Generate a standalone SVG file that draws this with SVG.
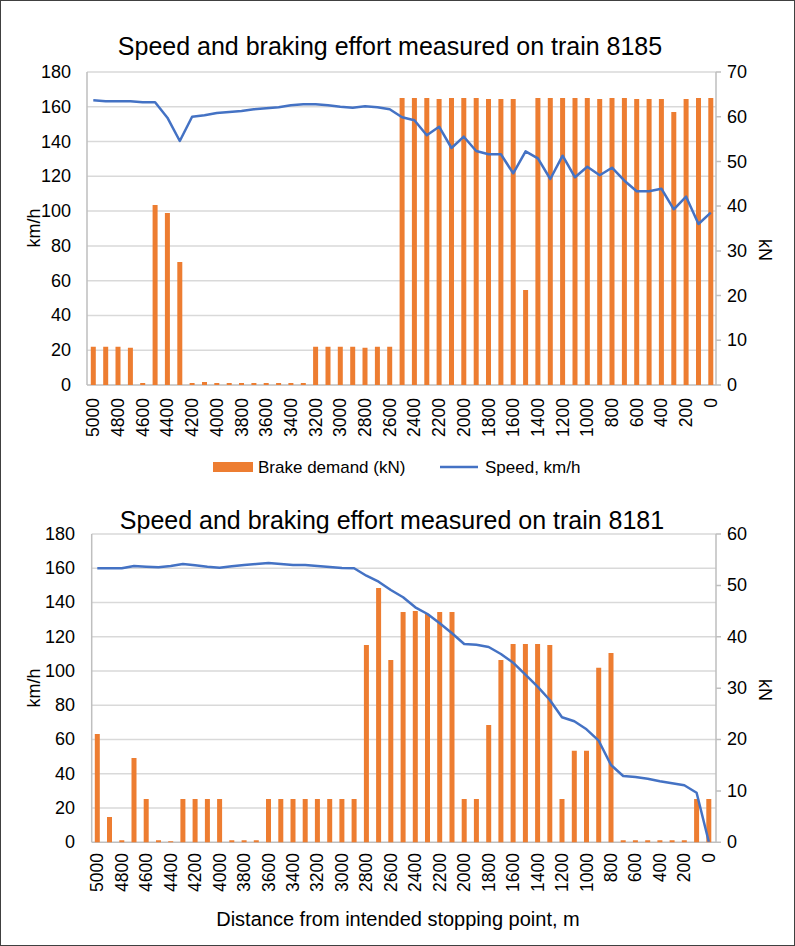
<svg xmlns="http://www.w3.org/2000/svg" width="795" height="946" viewBox="0 0 795 946">
<style>
text{font-family:"Liberation Sans",Arial,sans-serif;fill:#000}
.t{font-size:25px;text-anchor:middle}
.l{font-size:18px;text-anchor:end}
.r{font-size:18px;text-anchor:start}
.x{font-size:17.5px;text-anchor:end}
.g{stroke:#d9d9d9;stroke-width:1.5;fill:none}
.ax{stroke:#bfbfbf;stroke-width:1.5;fill:none}
.bar{stroke:#ed7d31;stroke-width:5;fill:none}
.sp{stroke:#4472c4;stroke-width:2.5;fill:none;stroke-linejoin:round}
</style>
<rect x="0.5" y="0.5" width="794" height="945" fill="#fff" stroke="#404040"/>
<g id="chart1">
<text class="t" x="390" y="55">Speed and braking effort measured on train 8185</text>
<path class="g" d="M87 350.2H716M87 315.4H716M87 280.7H716M87 245.9H716M87 211.1H716M87 176.3H716M87 141.6H716M87 106.8H716M87 72H716"/>
<path class="ax" d="M87 72V385M87 385H716M716 72V385M716 72h5M716 116.7h5M716 161.4h5M716 206.1h5M716 250.9h5M716 295.6h5M716 340.3h5M716 385h5"/>
<g class="l"><text x="71" y="391">0</text><text x="71" y="356">20</text><text x="71" y="321">40</text><text x="71" y="287">60</text><text x="71" y="252">80</text><text x="71" y="217">100</text><text x="71" y="182">120</text><text x="71" y="148">140</text><text x="71" y="113">160</text><text x="71" y="78">180</text></g>
<g class="r"><text x="727" y="391">0</text><text x="727" y="346">10</text><text x="727" y="302">20</text><text x="727" y="257">30</text><text x="727" y="212">40</text><text x="727" y="168">50</text><text x="727" y="123">60</text><text x="727" y="78">70</text></g>
<text font-size="18" transform="translate(40,228) rotate(-90)" text-anchor="middle">km/h</text>
<text font-size="18" transform="translate(759,250) rotate(90)" text-anchor="middle">kN</text>
<path class="bar" d="M93.3 385V346.7M105.7 385V346.7M118 385V346.7M130.4 385V347.7M142.7 385V383M155.1 385V205M167.4 385V213M179.8 385V262M192.1 385V383M204.5 385V382M216.8 385V383M229.2 385V383M241.5 385V383M253.9 385V383M266.2 385V383M278.6 385V383M290.9 385V383M303.3 385V383M315.6 385V346.7M328 385V346.7M340.3 385V346.7M352.7 385V346.7M365 385V347.7M377.4 385V346.7M389.7 385V346.7M402.1 385V98M414.4 385V98M426.8 385V98M439.1 385V99M451.5 385V98M463.8 385V98M476.2 385V98M488.5 385V99M500.9 385V99M513.2 385V99M525.6 385V290M537.9 385V98M550.3 385V98M562.6 385V98M575 385V98M587.3 385V98M599.7 385V99M612 385V98M624.4 385V98M636.7 385V99M649.1 385V99M661.4 385V99M673.8 385V112M686.1 385V99M698.5 385V98M710.8 385V98"/>
<polyline class="sp" points="93.3,100.3 105.7,101.3 118,101.3 130.4,101.3 142.7,102.3 155.1,102.3 167.4,117.7 179.8,141 192.1,116.7 204.5,115.3 216.8,113 229.2,112 241.5,111 253.9,109.3 266.2,108.3 278.6,107.3 290.9,105.3 303.3,104.3 315.6,104.3 328,105.3 340.3,106.7 352.7,107.7 365,106.3 377.4,107.3 389.7,109.3 402.1,117.3 414.4,120.3 426.8,135.3 439.1,126.7 451.5,148 463.8,136.7 476.2,151 488.5,154.3 500.9,154.3 513.2,173.3 525.6,151.3 537.9,158.3 550.3,179 562.6,155.7 575,177.3 587.3,166.7 599.7,175.3 612,167.7 624.4,180.7 636.7,191.3 649.1,191.3 661.4,188.7 673.8,209.3 686.1,196.7 698.5,224 710.8,212.7"/>
<g class="x">
<text transform="translate(93.3,398) rotate(-90)" y="6">5000</text>
<text transform="translate(118,398) rotate(-90)" y="6">4800</text>
<text transform="translate(142.7,398) rotate(-90)" y="6">4600</text>
<text transform="translate(167.4,398) rotate(-90)" y="6">4400</text>
<text transform="translate(192.1,398) rotate(-90)" y="6">4200</text>
<text transform="translate(216.8,398) rotate(-90)" y="6">4000</text>
<text transform="translate(241.5,398) rotate(-90)" y="6">3800</text>
<text transform="translate(266.2,398) rotate(-90)" y="6">3600</text>
<text transform="translate(290.9,398) rotate(-90)" y="6">3400</text>
<text transform="translate(315.6,398) rotate(-90)" y="6">3200</text>
<text transform="translate(340.3,398) rotate(-90)" y="6">3000</text>
<text transform="translate(365,398) rotate(-90)" y="6">2800</text>
<text transform="translate(389.7,398) rotate(-90)" y="6">2600</text>
<text transform="translate(414.4,398) rotate(-90)" y="6">2400</text>
<text transform="translate(439.1,398) rotate(-90)" y="6">2200</text>
<text transform="translate(463.8,398) rotate(-90)" y="6">2000</text>
<text transform="translate(488.5,398) rotate(-90)" y="6">1800</text>
<text transform="translate(513.2,398) rotate(-90)" y="6">1600</text>
<text transform="translate(537.9,398) rotate(-90)" y="6">1400</text>
<text transform="translate(562.6,398) rotate(-90)" y="6">1200</text>
<text transform="translate(587.3,398) rotate(-90)" y="6">1000</text>
<text transform="translate(612,398) rotate(-90)" y="6">800</text>
<text transform="translate(636.7,398) rotate(-90)" y="6">600</text>
<text transform="translate(661.4,398) rotate(-90)" y="6">400</text>
<text transform="translate(686.1,398) rotate(-90)" y="6">200</text>
<text transform="translate(710.8,398) rotate(-90)" y="6">0</text>
</g>
<rect x="213" y="462" width="40" height="10" fill="#ed7d31"/>
<text font-size="17" x="258" y="473">Brake demand (kN)</text>
<path class="sp" d="M440 467H478"/>
<text font-size="17" x="485" y="473">Speed, km/h</text>
</g>
<g id="chart2">
<text class="t" x="392" y="529">Speed and braking effort measured on train 8181</text>
<path class="g" d="M91.7 808H716M91.7 773.8H716M91.7 739.5H716M91.7 705.3H716M91.7 671H716M91.7 636.8H716M91.7 602.5H716M91.7 568.3H716M91.7 534H716"/>
<path class="ax" d="M91.7 534V842.3M91.7 842.3H716M716 534V842.3M716 534h5M716 585.4h5M716 636.8h5M716 688.2h5M716 739.5h5M716 790.9h5M716 842.3h5"/>
<g class="l"><text x="75" y="848">0</text><text x="75" y="814">20</text><text x="75" y="780">40</text><text x="75" y="745">60</text><text x="75" y="711">80</text><text x="75" y="677">100</text><text x="75" y="643">120</text><text x="75" y="608">140</text><text x="75" y="574">160</text><text x="75" y="540">180</text></g>
<g class="r"><text x="727" y="848">0</text><text x="727" y="797">10</text><text x="727" y="745">20</text><text x="727" y="694">30</text><text x="727" y="643">40</text><text x="727" y="591">50</text><text x="727" y="540">60</text></g>
<text font-size="18" transform="translate(40,688) rotate(-90)" text-anchor="middle">km/h</text>
<text font-size="18" transform="translate(759,690) rotate(90)" text-anchor="middle">kN</text>
<path class="bar" d="M97.3 842.3V734M109.5 842.3V817M121.8 842.3V840.3M134 842.3V758M146.2 842.3V799M158.5 842.3V840.3M170.7 842.3V841.3M182.9 842.3V799M195.1 842.3V799M207.4 842.3V799M219.6 842.3V799M231.8 842.3V840.3M244.1 842.3V840.3M256.3 842.3V840.3M268.5 842.3V799M280.8 842.3V799M293 842.3V799M305.2 842.3V799M317.4 842.3V799M329.7 842.3V799M341.9 842.3V799M354.1 842.3V799M366.4 842.3V645M378.6 842.3V588M390.8 842.3V660M403.1 842.3V612M415.3 842.3V611M427.5 842.3V614M439.7 842.3V612M452 842.3V612M464.2 842.3V799M476.4 842.3V799M488.7 842.3V725M500.9 842.3V660M513.1 842.3V644M525.4 842.3V644M537.6 842.3V644M549.8 842.3V645M562 842.3V799M574.3 842.3V750.7M586.5 842.3V750.7M598.7 842.3V667.7M611 842.3V653M623.2 842.3V840.3M635.4 842.3V840.3M647.7 842.3V840.3M659.9 842.3V840.3M672.1 842.3V840.3M684.3 842.3V840.3M696.6 842.3V799M708.8 842.3V799"/>
<polyline class="sp" points="97.3,568.3 109.5,568.3 121.8,568.3 134,566 146.2,566.7 158.5,567.3 170.7,566 182.9,564 195.1,565.3 207.4,566.7 219.6,567.7 231.8,566.3 244.1,565 256.3,564 268.5,563 280.8,564 293,565 305.2,565 317.4,566 329.7,567 341.9,568 354.1,568.3 366.4,575.7 378.6,581.7 390.8,590 403.1,597.3 415.3,607.3 427.5,614 439.7,623.3 452,633.3 464.2,644 476.4,644.7 488.7,647 500.9,654 513.1,662.7 525.4,674.7 537.6,686.7 549.8,700 562,717.3 574.3,721.3 586.5,729.3 598.7,740.7 611,765 623.2,776 635.4,777 647.7,778.7 659.9,781.3 672.1,783.3 684.3,785.3 696.6,792.7 708.8,841.7"/>
<g class="x">
<text transform="translate(97.3,853) rotate(-90)" y="6">5000</text>
<text transform="translate(121.8,853) rotate(-90)" y="6">4800</text>
<text transform="translate(146.2,853) rotate(-90)" y="6">4600</text>
<text transform="translate(170.7,853) rotate(-90)" y="6">4400</text>
<text transform="translate(195.1,853) rotate(-90)" y="6">4200</text>
<text transform="translate(219.6,853) rotate(-90)" y="6">4000</text>
<text transform="translate(244.1,853) rotate(-90)" y="6">3800</text>
<text transform="translate(268.5,853) rotate(-90)" y="6">3600</text>
<text transform="translate(293,853) rotate(-90)" y="6">3400</text>
<text transform="translate(317.4,853) rotate(-90)" y="6">3200</text>
<text transform="translate(341.9,853) rotate(-90)" y="6">3000</text>
<text transform="translate(366.4,853) rotate(-90)" y="6">2800</text>
<text transform="translate(390.8,853) rotate(-90)" y="6">2600</text>
<text transform="translate(415.3,853) rotate(-90)" y="6">2400</text>
<text transform="translate(439.7,853) rotate(-90)" y="6">2200</text>
<text transform="translate(464.2,853) rotate(-90)" y="6">2000</text>
<text transform="translate(488.7,853) rotate(-90)" y="6">1800</text>
<text transform="translate(513.1,853) rotate(-90)" y="6">1600</text>
<text transform="translate(537.6,853) rotate(-90)" y="6">1400</text>
<text transform="translate(562,853) rotate(-90)" y="6">1200</text>
<text transform="translate(586.5,853) rotate(-90)" y="6">1000</text>
<text transform="translate(611,853) rotate(-90)" y="6">800</text>
<text transform="translate(635.4,853) rotate(-90)" y="6">600</text>
<text transform="translate(659.9,853) rotate(-90)" y="6">400</text>
<text transform="translate(684.3,853) rotate(-90)" y="6">200</text>
<text transform="translate(708.8,853) rotate(-90)" y="6">0</text>
</g>
<text font-size="20" x="398" y="926" text-anchor="middle">Distance from intended stopping point, m</text>
</g>
</svg>
